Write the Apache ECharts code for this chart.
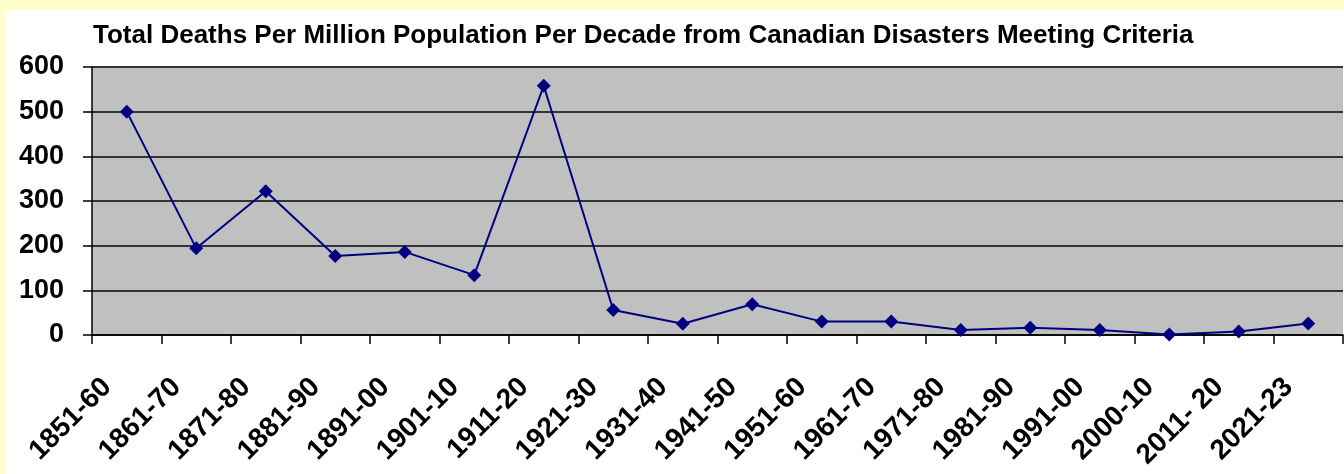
<!DOCTYPE html>
<html>
<head>
<meta charset="utf-8">
<script src="https://cdn.jsdelivr.net/npm/echarts@6/dist/echarts.min.js"></script>
<style>
html,body{margin:0;padding:0;background:#FFFFCC;width:1344px;height:474px;overflow:hidden;}
#chart{position:absolute;left:6px;top:10px;width:1338px;height:464px;background:#ffffff;}
</style>
</head>
<body>
<div id="chart"></div>
<script>
const titleText = 'Total Deaths Per Million Population Per Decade from Canadian Disasters Meeting Criteria';
const categories = ['1851-60','1861-70','1871-80','1881-90','1891-00','1901-10','1911-20','1921-30','1931-40','1941-50','1951-60','1961-70','1971-80','1981-90','1991-00','2000-10','2011- 20','2021-23'];
const deathsPerMillion = [500, 194, 322, 177, 186, 134, 558, 56, 25, 69, 30, 30, 11, 16, 11, 1, 8, 26];
const yTicks = {min: 0, max: 600, interval: 100};

const chart = echarts.init(document.getElementById('chart'));
chart.setOption({
  animation: false,
  backgroundColor: '#ffffff',
  title: {
    text: titleText,
    left: 82,
    top: 8,
    textStyle: {fontFamily: 'Liberation Sans, Arial, sans-serif', fontWeight: 'bold', fontSize: 26, color: '#000000'}
  },
  grid: {
    left: 86, right: 1, top: 57, bottom: 139,
    show: true, backgroundColor: '#C0C0C0', borderWidth: 0
  },
  xAxis: {
    type: 'category',
    data: categories,
    boundaryGap: true,
    axisLine: {lineStyle: {color: '#000000', width: 1.5}},
    axisTick: {show: true, length: 9, lineStyle: {color: '#000000', width: 1.5}},
    axisLabel: {
      rotate: 45, margin: 28, color: '#000000',
      fontFamily: 'Liberation Sans, Arial, sans-serif', fontWeight: 'bold', fontSize: 28,
      padding: [0, 28, 0, 0],
      interval: 0
    },
    splitLine: {show: false}
  },
  yAxis: {
    type: 'value',
    min: yTicks.min, max: yTicks.max, interval: yTicks.interval,
    axisLine: {show: true, lineStyle: {color: '#000000', width: 1.5}},
    axisTick: {show: true, length: 9, lineStyle: {color: '#000000', width: 1.5}},
    axisLabel: {
      margin: 28, color: '#000000',
      fontFamily: 'Liberation Sans, Arial, sans-serif', fontWeight: 'bold', fontSize: 27
    },
    splitLine: {show: true, lineStyle: {color: '#333333', width: 2}}
  },
  series: [{
    type: 'line',
    data: deathsPerMillion,
    symbol: 'diamond',
    symbolSize: 14,
    showAllSymbol: true,
    lineStyle: {color: '#000080', width: 2},
    itemStyle: {color: '#000080'}
  }]
});
</script>
</body>
</html>
